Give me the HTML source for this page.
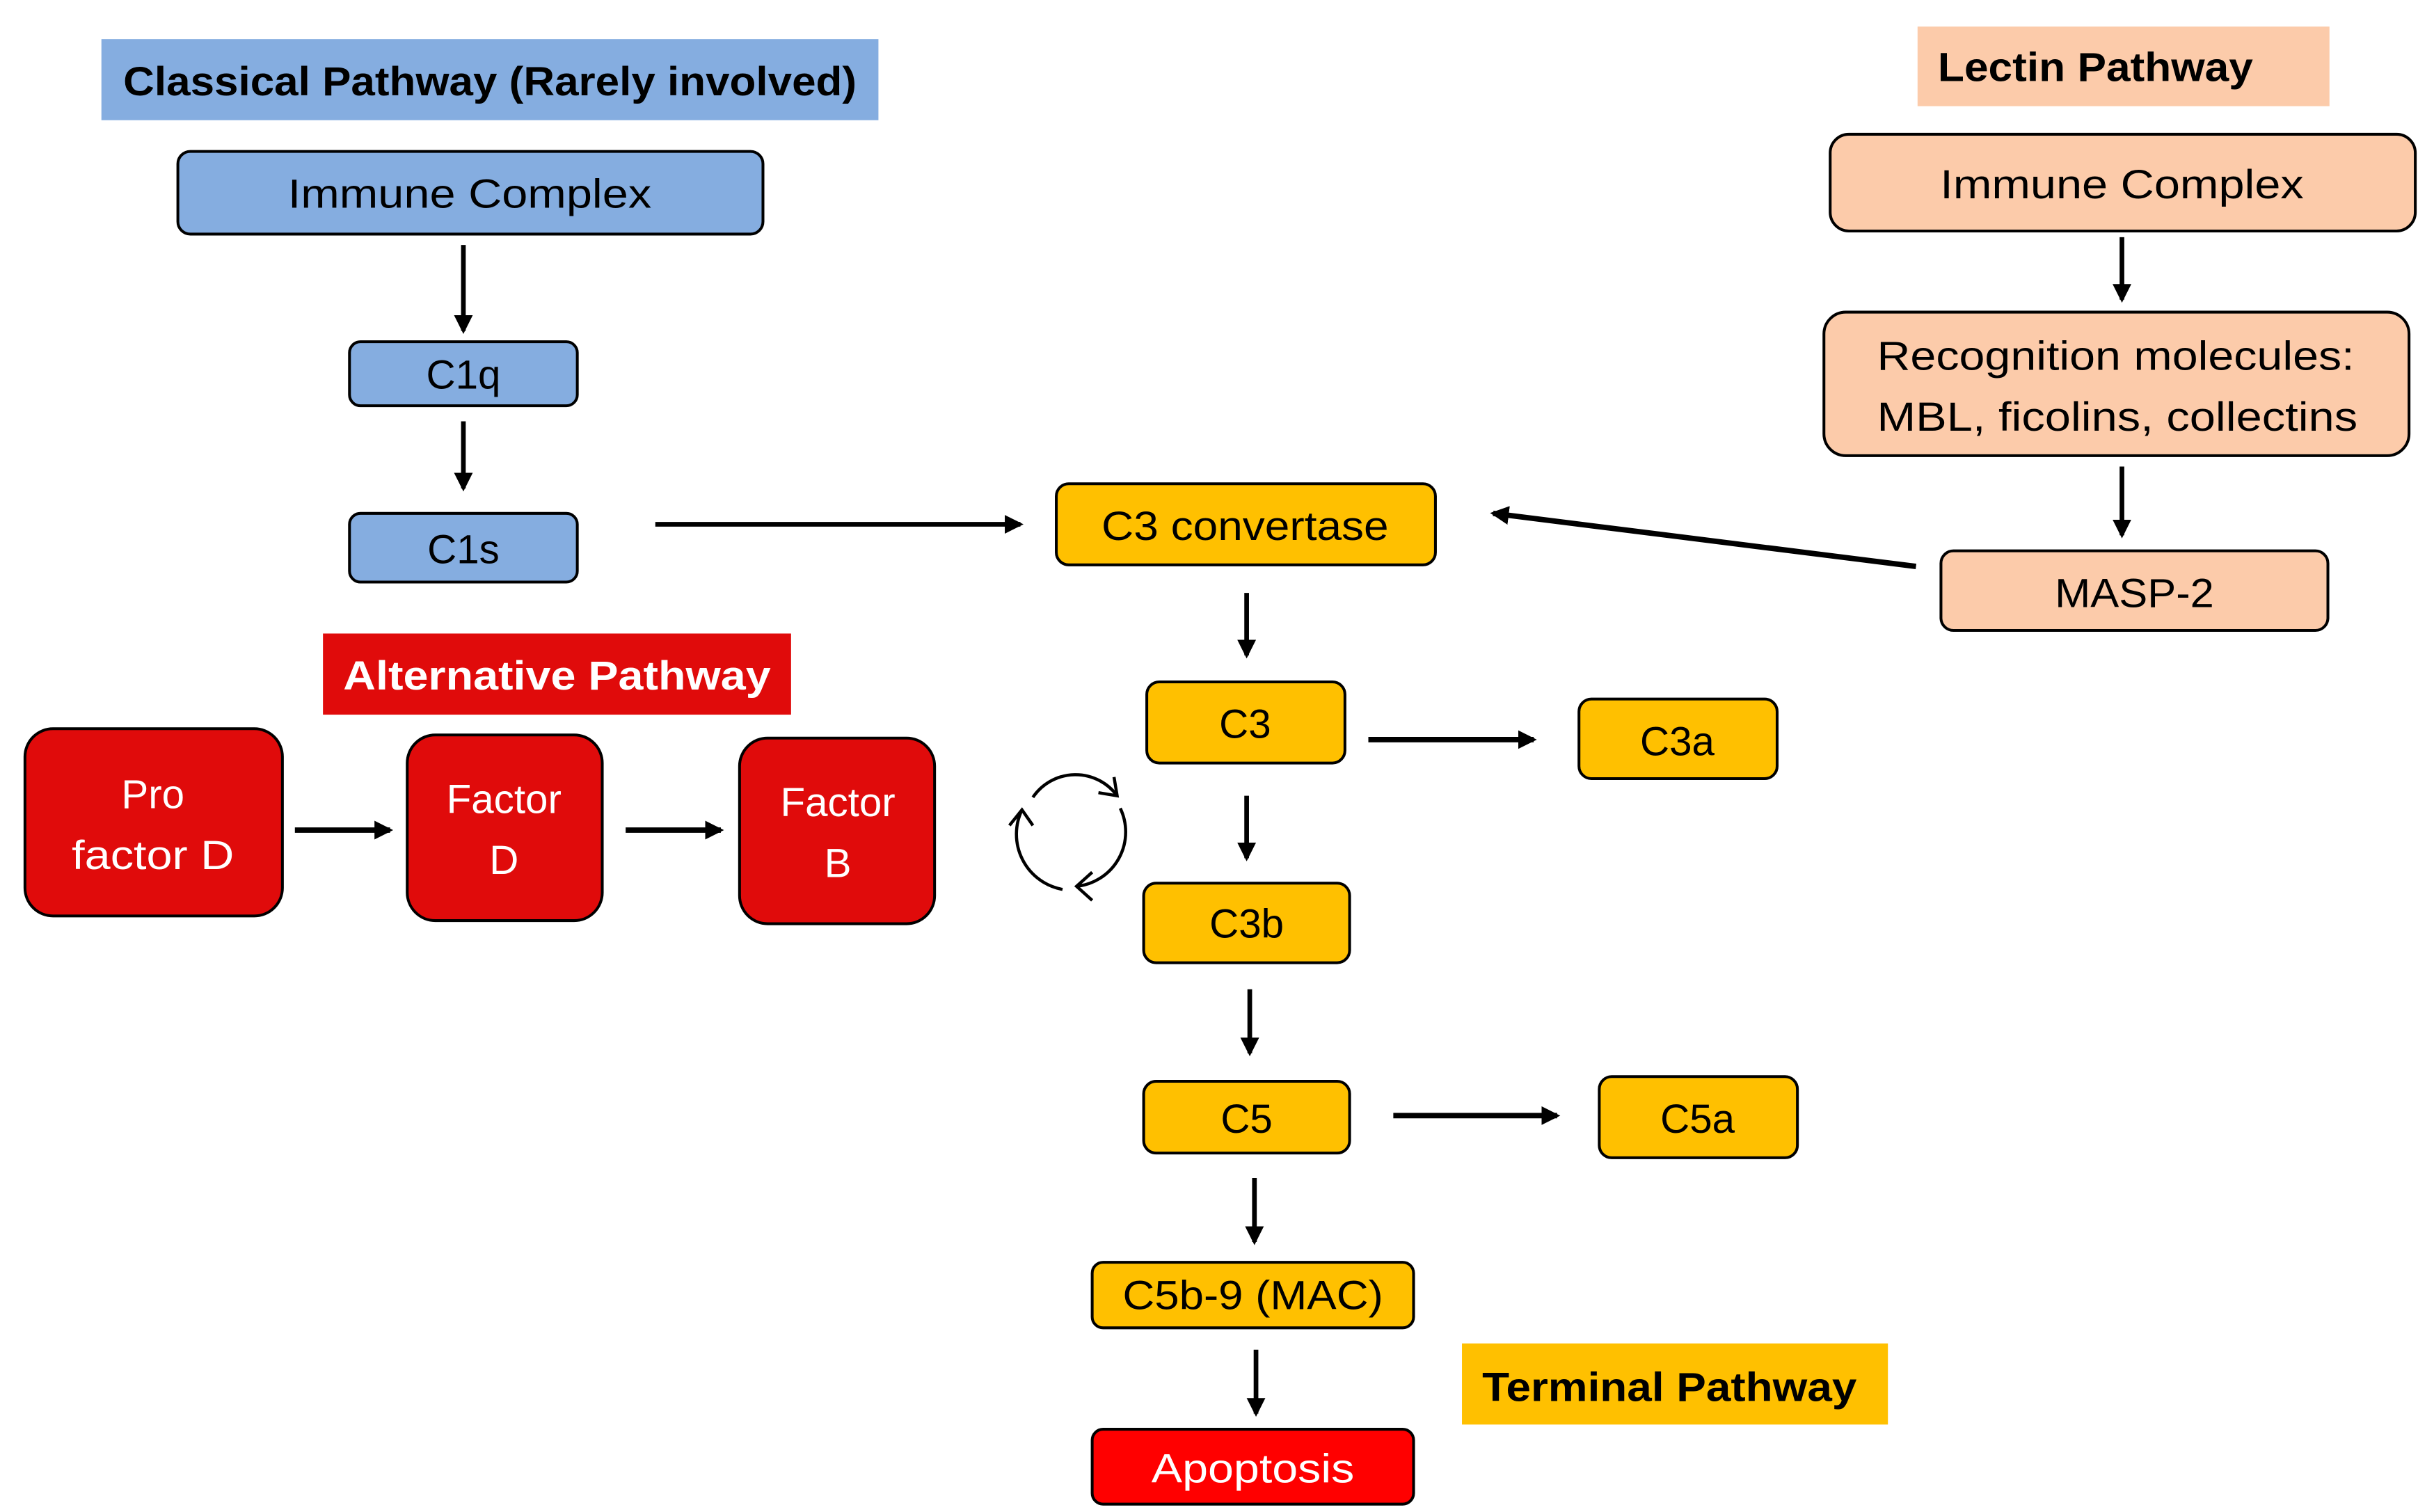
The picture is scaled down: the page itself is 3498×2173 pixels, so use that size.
<!DOCTYPE html>
<html><head><meta charset="utf-8"><style>
html,body{margin:0;padding:0;background:#fff;}
svg{display:block;}
text{font-family:"Liberation Sans",sans-serif;}
</style></head><body>
<svg width="3498" height="2173" viewBox="0 0 1560 969" xmlns="http://www.w3.org/2000/svg">
<defs>
<marker id="a" markerWidth="14" markerHeight="14" refX="10" refY="6" orient="auto" markerUnits="userSpaceOnUse"><path d="M0,0 L12,6 L0,12 Z" fill="#000"/></marker>
</defs>
<rect width="1560" height="969" fill="#fff"/>
<g stroke="#000" stroke-width="3" fill="none" marker-end="url(#a)">
<line x1="297" y1="157" x2="297" y2="212"/>
<line x1="297" y1="270" x2="297" y2="313"/>
<line x1="420" y1="336" x2="654" y2="336"/>
<line x1="1228" y1="363" x2="957" y2="329" stroke-width="3.5"/>
<line x1="1360" y1="152" x2="1360" y2="192"/>
<line x1="1360" y1="299" x2="1360" y2="343"/>
<line x1="799" y1="380" x2="799" y2="420"/>
<line x1="877" y1="474" x2="983" y2="474" stroke-width="3.5"/>
<line x1="799" y1="510" x2="799" y2="550"/>
<line x1="801" y1="634" x2="801" y2="675"/>
<line x1="893" y1="715" x2="998" y2="715" stroke-width="3.5"/>
<line x1="804" y1="755" x2="804" y2="796"/>
<line x1="805" y1="865" x2="805" y2="906"/>
<line x1="189" y1="532" x2="250" y2="532" stroke-width="3.5"/>
<line x1="401" y1="532" x2="462" y2="532" stroke-width="3.5"/>
</g>
<g stroke="#000" stroke-width="2" fill="none">
<path d="M662,511 A33,33 0 0 1 716,510"/>
<path d="M704,508 L716,510 L714,498"/>
<path d="M718,518 A35,35 0 0 1 690,568"/>
<path d="M700,559 L690,568 L700,577"/>
<path d="M681,570 A36,36 0 0 1 655,519"/>
<path d="M647,529 L655,519 L662,529"/>
</g>
<rect x="65" y="25" width="498" height="52" fill="#85ADE0"/>
<text x="314" y="61" text-anchor="middle" font-size="26" font-weight="bold" textLength="470" lengthAdjust="spacingAndGlyphs">Classical Pathway (Rarely involved)</text>
<rect x="1229" y="17" width="264" height="51" fill="#FCCBAA"/>
<text x="1242" y="52" font-size="26" font-weight="bold" textLength="202" lengthAdjust="spacingAndGlyphs">Lectin Pathway</text>
<rect x="207" y="406" width="300" height="52" fill="#E00B0B"/>
<text x="357" y="442" text-anchor="middle" font-size="26" font-weight="bold" fill="#fff" textLength="274" lengthAdjust="spacingAndGlyphs">Alternative Pathway</text>
<rect x="937" y="861" width="273" height="52" fill="#FFC000"/>
<text x="950" y="898" font-size="26" font-weight="bold" textLength="240" lengthAdjust="spacingAndGlyphs">Terminal Pathway</text>
<g stroke="#000" stroke-width="1.8">
<rect x="114" y="97" width="375" height="53" rx="8" fill="#85ADE0"/>
<rect x="224" y="219" width="146" height="41" rx="7" fill="#85ADE0"/>
<rect x="224" y="329" width="146" height="44" rx="7" fill="#85ADE0"/>
<rect x="1173" y="86" width="375" height="62" rx="12" fill="#FCCBAA"/>
<rect x="1169" y="200" width="375" height="92" rx="14" fill="#FCCBAA"/>
<rect x="1244" y="353" width="248" height="51" rx="8" fill="#FCCBAA"/>
<rect x="677" y="310" width="243" height="52" rx="8" fill="#FFC000"/>
<rect x="735" y="437" width="127" height="52" rx="8" fill="#FFC000"/>
<rect x="1012" y="448" width="127" height="51" rx="8" fill="#FFC000"/>
<rect x="733" y="566" width="132" height="51" rx="8" fill="#FFC000"/>
<rect x="733" y="693" width="132" height="46" rx="8" fill="#FFC000"/>
<rect x="1025" y="690" width="127" height="52" rx="8" fill="#FFC000"/>
<rect x="700" y="809" width="206" height="42" rx="7" fill="#FFC000"/>
<rect x="700" y="916" width="206" height="48" rx="7" fill="#FF0000"/>
<rect x="16" y="467" width="165" height="120" rx="18" fill="#E00B0B"/>
<rect x="261" y="471" width="125" height="119" rx="18" fill="#E00B0B"/>
<rect x="474" y="473" width="125" height="119" rx="18" fill="#E00B0B"/>
</g>
<g font-size="26" text-anchor="middle">
<text x="301" y="133" textLength="233" lengthAdjust="spacingAndGlyphs">Immune Complex</text>
<text x="297" y="249">C1q</text>
<text x="297" y="361">C1s</text>
<text x="1360" y="127" textLength="233" lengthAdjust="spacingAndGlyphs">Immune Complex</text>
<text x="1356" y="237" textLength="306" lengthAdjust="spacingAndGlyphs">Recognition molecules:</text>
<text x="1357" y="276" textLength="308" lengthAdjust="spacingAndGlyphs">MBL, ficolins, collectins</text>
<text x="1368" y="389" textLength="102" lengthAdjust="spacingAndGlyphs">MASP-2</text>
<text x="798" y="346" textLength="184" lengthAdjust="spacingAndGlyphs">C3 convertase</text>
<text x="798" y="473">C3</text>
<text x="1075" y="484">C3a</text>
<text x="799" y="601">C3b</text>
<text x="799" y="726">C5</text>
<text x="1088" y="726">C5a</text>
<text x="803" y="839" textLength="167" lengthAdjust="spacingAndGlyphs">C5b-9 (MAC)</text>
<text x="803" y="950" fill="#fff" textLength="130" lengthAdjust="spacingAndGlyphs">Apoptosis</text>
<text x="98" y="518" fill="#fff">Pro</text>
<text x="98" y="557" fill="#fff" textLength="104" lengthAdjust="spacingAndGlyphs">factor D</text>
<text x="323" y="521" fill="#fff">Factor</text>
<text x="323" y="560" fill="#fff">D</text>
<text x="537" y="523" fill="#fff">Factor</text>
<text x="537" y="562" fill="#fff">B</text>
</g>
</svg>
</body></html>
